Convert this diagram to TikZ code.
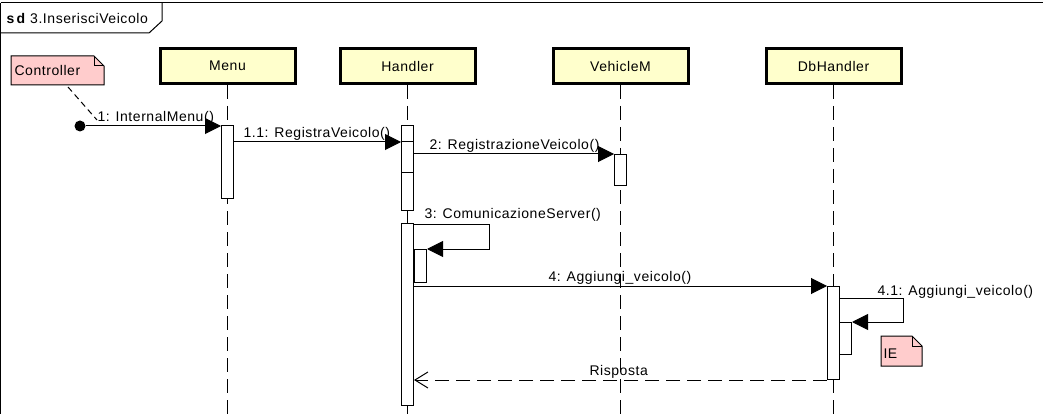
\documentclass[tikz,border=0pt]{standalone}
\usepackage{fontspec}
\setmainfont{Liberation Sans}[LetterSpace=4]
\usetikzlibrary{arrows.meta,positioning}

\definecolor{headfill}{HTML}{FFFFCC}
\definecolor{notefill}{HTML}{FFCCCC}

\tikzset{
  lifebox/.style={draw, line width=3pt, fill=headfill, minimum width=135pt, minimum height=35pt, inner sep=0pt},
  act/.style={draw, fill=white, minimum width=12pt, inner sep=0pt, anchor=north},
  lifeline/.style={dash pattern=on 14pt off 7pt},
  msg/.style={-{Triangle[length=16pt,width=16pt]}},
  reply/.style={dash pattern=on 14pt off 7pt, -{Straight Barb[length=13pt,width=16pt]}},
  lbl/.style={anchor=base west, inner sep=0pt},
}

\begin{document}
\begin{tikzpicture}[x=1pt, y=-1pt, line width=1pt, font=\fontsize{14}{16}\selectfont]
    \useasboundingbox (0,0) rectangle (1043,414);

    % Draw the frame and its tab
    \draw (0.5,3) -- (1043,3);
    \draw (0.5,3) -- (0.5,414);
    \draw (0.5,33) -- (149,33) -- (162,21) -- (162,3);
    \node[lbl] (title) at (6,24) {\textbf{s\,d} 3.InserisciVeicolo};

    % Draw the lifeline heads
    \node[lifebox] (menu) at (227.5,66) {Menu};
    \node[lifebox] (handler) at (407.5,66) {Handler};
    \node[lifebox] (vehicle) at (620.5,66) {VehicleM};
    \node[lifebox] (db) at (833.5,66) {DbHandler};

    % Draw the lifelines
    \foreach \l in {menu, handler, vehicle, db} {
        \coordinate (\l End) at (\l.center |- 0,414);
        \draw[lifeline] (\l.south) -- (\l End);
    }

    % Draw the activations
    \node[act, minimum height=73pt] (aMenu) at (227.5,125) {};
    \node[act, minimum height=85pt] (aHand1) at (407.5,125) {};
    \node[act, minimum height=31pt] (aVeh) at (620.5,154) {};
    \node[act, minimum height=182pt] (aHand2) at (407.5,223) {};
    \node[act, minimum height=33pt] (aHand3) at (420.5,249) {};
    \node[act, minimum height=93pt] (aDb) at (833.5,286) {};
    \node[act, minimum height=32pt] (aDb2) at (845.5,322) {};
    \coordinate (y11) at (0,142);
    \coordinate (y12) at (0,173);
    \draw (aHand1.west |- y11) -- (aHand1.east |- y11);
    \draw (aHand1.west |- y12) -- (aHand1.east |- y12);

    % Draw the controller note
    \draw[fill=notefill] (11,56) -- (94,56) -- (104,66) -- (104,85) -- (11,85) -- cycle;
    \draw (94,56) -- (94,66) -- (104,66);
    \node[lbl] (ctrl) at (14,76) {Controller};
    \coordinate (ctrlFoot) at (68,87);
    \coordinate (ctrlEnd) at (97,120);
    \draw[dash pattern=on 6pt off 4pt] (ctrlFoot) -- (ctrlEnd);

    % Draw the messages
    \node[circle, fill, inner sep=0pt, minimum size=11pt] (start) at (80,126) {};
    \draw[msg] (start) -- (aMenu.west |- start);
    \node[lbl] (m1) at (97,122) {1: InternalMenu()};

    \draw[msg] (aMenu.east |- y11) -- (aHand1.west |- y11);
    \node[lbl] (m11) at (243,138) {1.1: RegistraVeicolo()};

    \draw[msg] (aHand1.east |- aVeh.north) -- (aVeh.north west);
    \node[lbl] (m2) at (429,150) {2: RegistrazioneVeicolo()};

    \coordinate (selfA) at (489,224);
    \draw[msg] (aHand2.east |- selfA) -- (selfA) |- (aHand3.north east);
    \node[lbl] (m3) at (424,218) {3: ComunicazioneServer()};

    \draw[msg] (aHand2.east |- aDb.north) -- (aDb.north west);
    \node[lbl] (m4) at (548,281) {4: Aggiungi\_veicolo()};

    \coordinate (selfB) at (903,298);
    \draw[msg] (aDb.east |- selfB) -- (selfB) |- (aDb2.north east);
    \node[lbl] (m41) at (877,295) {4.1: Aggiungi\_veicolo()};

    \draw[reply] (aDb.south west) -- (aHand2.east |- aDb.south);
    \node[lbl] (ret) at (589,375) {Risposta};

    % Draw the IE note
    \draw[fill=notefill] (881,336) -- (912,336) -- (922,346) -- (922,366) -- (881,366) -- cycle;
    \draw (912,336) -- (912,346) -- (922,346);
    \node[lbl] (ie) at (883,358) {IE};

\end{tikzpicture}
\end{document}
